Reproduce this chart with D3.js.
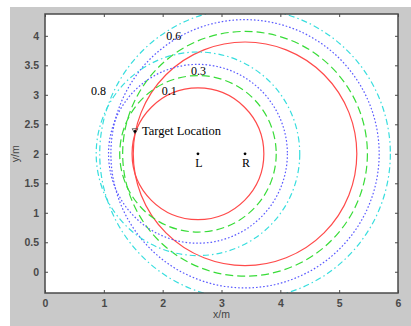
<!DOCTYPE html>
<html>
<head>
<meta charset="utf-8">
<script src="https://cdn.jsdelivr.net/npm/d3@7"></script>
<style>
  body { margin: 0; background: #fff; }
</style>
</head>
<body>
<svg id="chart" width="411" height="326"></svg>
<script>
// circle families around the two receivers
const levels = ["0.1", "0.3", "0.6", "0.8"];
const leftCenter = [2.6, 2];
const rightCenter = [3.4, 2];
const leftRadius = [1.12, 1.33, 1.52, 1.73];
const rightRadius = [1.9, 2.08, 2.28, 2.47];
const labelX = [2.11, 2.61, 2.19, 0.91];
const labelY = [3.07, 3.41, 4.0, 3.07];

const receivers = [
  {name: "L", x: 2.6, y: 2},
  {name: "R", x: 3.4, y: 2}
];
const target = {name: "Target Location", x: 1.53, y: 2.38};

const xTicks = [0, 1, 2, 3, 4, 5, 6];
const yTicks = [0, 0.5, 1, 1.5, 2, 2.5, 3, 3.5, 4];
const yTickLabels = ["0", "0.5", "1", "1.5", "2", "2.5", "3", "3.5", "4"];

// line style per level: red solid, green dashed, blue dotted, cyan dash-dot
const colors = ["#ff4a4a", "#38dc38", "#5a5aff", "#38dede"];
const dashes = [null, "8,4", "1.6,2", "6,3,1.5,3"];

const svg = d3.select("#chart");

// gray figure background
svg.append("rect")
  .attr("x", 10).attr("y", 7)
  .attr("width", 401).attr("height", 319)
  .attr("fill", "#c9c9c9");

const plotLeft = 45, plotRight = 398, plotTop = 14, plotBottom = 293;

const x = d3.scaleLinear().domain([0, 6]).range([plotLeft, plotRight]);
const y = d3.scaleLinear().domain([-0.36, 4.37]).range([plotBottom, plotTop]);

svg.append("rect")
  .attr("x", plotLeft).attr("y", plotTop)
  .attr("width", plotRight - plotLeft).attr("height", plotBottom - plotTop)
  .attr("fill", "#fff");

svg.append("defs").append("clipPath")
  .attr("id", "plotClip")
  .append("rect")
  .attr("x", plotLeft).attr("y", plotTop)
  .attr("width", plotRight - plotLeft).attr("height", plotBottom - plotTop);

const plot = svg.append("g").attr("clip-path", "url(#plotClip)");

// build circle list from the arrays
const circles = [];
levels.forEach((lv, i) => {
  circles.push({c: leftCenter, r: leftRadius[i], i});
  circles.push({c: rightCenter, r: rightRadius[i], i});
});

plot.selectAll("circle.ring")
  .data(circles)
  .enter().append("circle")
  .attr("class", "ring")
  .attr("cx", d => x(d.c[0]))
  .attr("cy", d => y(d.c[1]))
  .attr("r", d => x(d.r) - x(0))
  .attr("fill", "none")
  .attr("stroke", d => colors[d.i])
  .attr("stroke-width", 1.2)
  .attr("stroke-dasharray", d => dashes[d.i]);

// level labels
svg.selectAll("text.level")
  .data(levels)
  .enter().append("text")
  .attr("class", "level")
  .attr("x", (d, i) => x(labelX[i]))
  .attr("y", (d, i) => y(labelY[i]) + 4)
  .attr("text-anchor", "middle")
  .attr("font-family", "Liberation Serif, Times New Roman, serif")
  .attr("font-size", "12px")
  .attr("fill", "#000")
  .text(d => d);

// receivers
svg.selectAll("circle.rx")
  .data(receivers)
  .enter().append("circle")
  .attr("class", "rx")
  .attr("cx", d => x(d.x))
  .attr("cy", d => y(d.y))
  .attr("r", 1.4)
  .attr("fill", "#000");

svg.selectAll("text.rx")
  .data(receivers)
  .enter().append("text")
  .attr("class", "rx")
  .attr("x", d => x(d.x) + 1)
  .attr("y", d => y(d.y) + 13)
  .attr("text-anchor", "middle")
  .attr("font-family", "Liberation Serif, Times New Roman, serif")
  .attr("font-size", "12px")
  .text(d => d.name);

// target marker (down triangle + dot)
const tx = x(target.x), ty = y(target.y);
svg.append("path")
  .attr("d", d3.symbol().type(d3.symbolTriangle).size(14))
  .attr("transform", `translate(${tx},${ty - 1}) rotate(180)`)
  .attr("fill", "none")
  .attr("stroke", "#444")
  .attr("stroke-width", 0.8);
svg.append("circle")
  .attr("cx", tx).attr("cy", ty)
  .attr("r", 1.3)
  .attr("fill", "#000");
svg.append("text")
  .attr("x", tx + 7)
  .attr("y", ty + 4)
  .attr("font-family", "Liberation Serif, Times New Roman, serif")
  .attr("font-size", "12.5px")
  .text(target.name);

// axes box with inward ticks on all sides
const axisColor = "#4a4a4a";
const tickFont = "Liberation Sans, Arial, sans-serif";

const xAxisB = d3.axisBottom(x).tickValues(xTicks).tickSize(-3).tickPadding(7).tickFormat(d3.format("d"));
const xAxisT = d3.axisTop(x).tickValues(xTicks).tickSize(-3).tickFormat("");
const yAxisL = d3.axisLeft(y).tickValues(yTicks).tickSize(-3).tickPadding(6)
  .tickFormat((d, i) => yTickLabels[i]);
const yAxisR = d3.axisRight(y).tickValues(yTicks).tickSize(-3).tickFormat("");

function styleAxis(g) {
  g.select(".domain").remove();
  g.selectAll(".tick line").attr("stroke", axisColor);
  g.selectAll("text")
    .attr("fill", "#333")
    .attr("font-family", tickFont)
    .attr("font-size", "10.5px")
    .attr("font-weight", "bold")
    .attr("opacity", 0.85);
}

svg.append("g").attr("transform", `translate(0,${plotBottom})`).call(xAxisB).call(styleAxis);
svg.append("g").attr("transform", `translate(0,${plotTop})`).call(xAxisT).call(styleAxis);
svg.append("g").attr("transform", `translate(${plotLeft},0)`).call(yAxisL).call(styleAxis);
svg.append("g").attr("transform", `translate(${plotRight},0)`).call(yAxisR).call(styleAxis);

svg.append("rect")
  .attr("x", plotLeft).attr("y", plotTop)
  .attr("width", plotRight - plotLeft).attr("height", plotBottom - plotTop)
  .attr("fill", "none")
  .attr("stroke", axisColor)
  .attr("stroke-width", 1.5);

// axis titles
svg.append("text")
  .attr("x", x(3))
  .attr("y", 318)
  .attr("text-anchor", "middle")
  .attr("font-family", tickFont)
  .attr("font-size", "10.5px")
  .attr("fill", "#444")
  .text("x/m");

svg.append("text")
  .attr("transform", `translate(19,${y(2)}) rotate(-90)`)
  .attr("text-anchor", "middle")
  .attr("font-family", tickFont)
  .attr("font-size", "10.5px")
  .attr("fill", "#444")
  .text("y/m");
</script>
</body>
</html>
